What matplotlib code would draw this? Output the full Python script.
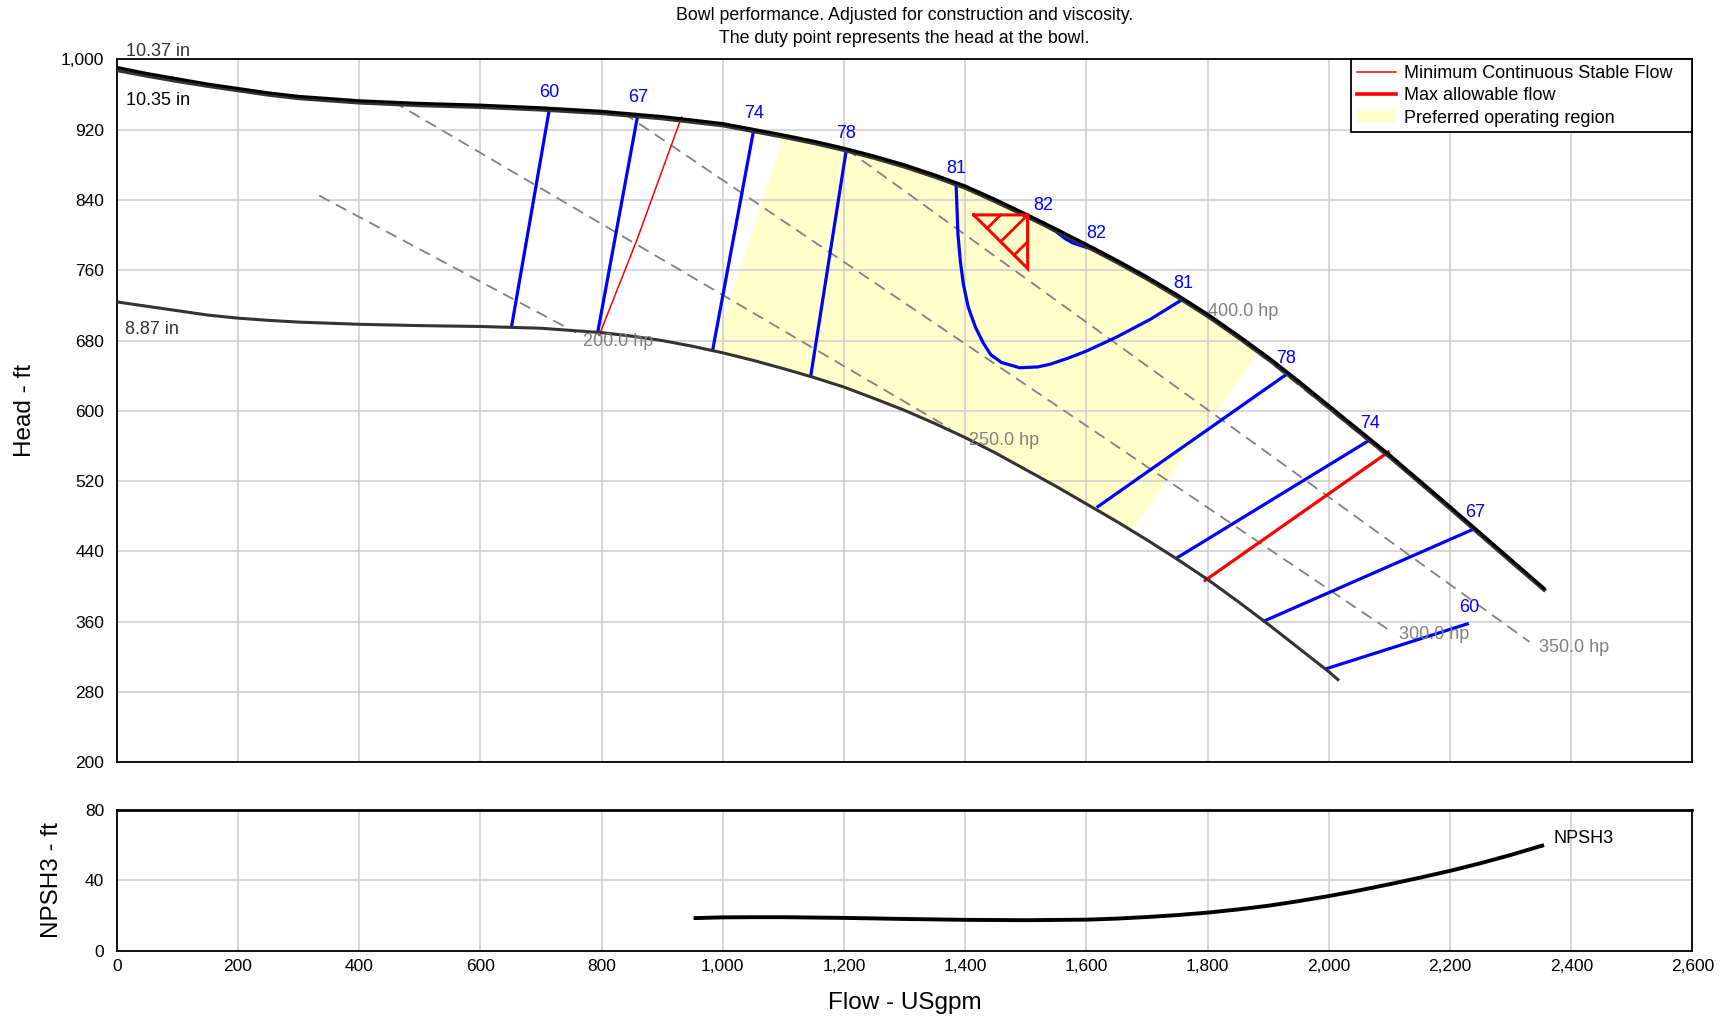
import numpy as np
import matplotlib
matplotlib.use("Agg")
import matplotlib.pyplot as plt
from matplotlib.ticker import FuncFormatter
from matplotlib.lines import Line2D
from matplotlib.patches import Patch

plt.rcParams['font.family'] = ['Liberation Sans', 'DejaVu Sans']

# impeller curves (flow USgpm, head ft)
q_max = [0, 50, 100, 150, 200, 250, 300, 400, 500, 600, 700, 800, 900, 1000, 1050,
         1100, 1150, 1200, 1250, 1300, 1350, 1400, 1450, 1500, 1550, 1600, 1650,
         1700, 1750, 1800, 1850, 1900, 1950, 2000, 2050, 2100, 2150, 2200, 2250,
         2300, 2355]
h_1037 = [991, 984, 978, 972, 967, 962, 958, 953, 950, 948, 945, 941, 935, 927, 920.5,
          914, 907, 899, 890, 880, 868.5, 856, 840.5, 824, 807, 789.5, 771.5,
          752.5, 732, 710, 686, 661, 634, 606, 578, 550, 520.5, 491, 461,
          431, 398]
h_1035 = [988, 981.5, 975.5, 970, 965, 960, 956, 951, 948, 946, 943, 939, 933, 925, 918.5,
          912, 905, 897, 888, 878, 866.5, 854, 838.5, 822, 805, 787.5, 769.5,
          750.5, 730, 708, 684, 659, 632, 604, 576, 548, 518.5, 489, 459,
          429, 396.5]
q_min = [0, 50, 100, 150, 200, 250, 300, 400, 500, 600, 700, 800, 850, 900, 950,
         1000, 1050, 1100, 1150, 1200, 1250, 1300, 1350, 1400, 1450, 1500, 1550,
         1600, 1650, 1700, 1750, 1800, 1850, 1900, 1950, 2000, 2015]
h_887 = [724, 719, 714, 709, 705.5, 703, 701, 698.5, 697, 696, 694, 689, 685, 680, 673.5,
         666, 657.5, 648, 638, 627, 614, 600.5, 585.5, 569.5, 552, 533, 514,
         494, 474, 453, 431, 408, 383, 357, 330, 303, 294]

# efficiency iso-lines: (label, flows, heads)
eff_lines = [
    ("60", [714, 651], [944, 694]),
    ("67", [860, 793], [938, 687]),
    ("74", [1051, 983], [920, 668]),
    ("78", [1204, 1145], [898, 639]),
    ("81", [1385, 1388, 1392, 1397, 1405, 1417, 1430, 1442, 1460, 1490, 1520, 1540,
            1570, 1600, 1650, 1705, 1759],
           [858, 801, 770, 744, 718, 695, 677, 664, 655, 649, 650, 653,
            660, 668, 684, 704, 727]),
    ("82", [1528, 1540, 1550, 1565, 1578, 1600, 1616],
           [815, 808, 804, 796, 791, 786, 784]),
    ("78", [1929, 1617], [641, 490]),
    ("74", [2068, 1748], [567, 432]),
    ("67", [2241, 1891], [466, 360]),
    ("60", [2231, 1994], [358, 306]),
]
# where the labels sit: line tops (the 81/82 loops get one at each end)
eff_label_pts = [(714, 944), (860, 938), (1051, 920), (1204, 898), (1385, 858),
                 (1528, 815), (1616, 784), (1759, 727), (1929, 641), (2068, 567),
                 (2241, 466), (2231, 358)]
eff_label_txt = ["60", "67", "74", "78", "81", "82", "82", "81", "78", "74", "67", "60"]

# power lines
hp_lines = [
    ("200.0 hp", [334, 758], [845, 689]),
    ("250.0 hp", [456, 1375], [952, 580]),
    ("300.0 hp", [836, 2098], [939, 351]),
    ("350.0 hp", [1204, 2331], [898, 337]),
    ("400.0 hp", [1785, 1900, 2000, 2100], [716, 657, 602, 546]),
]
hp_label_xy = [(770, 679), (1407, 566), (2115, 345), (2347, 331), (1800, 713)]

min_flow_q = [932, 858, 796]
min_flow_h = [934.5, 794, 686]
max_flow_q = [2098, 1796]
max_flow_h = [553, 407]

# preferred operating region corners
por_left = (985, 1100)     # bottom flow, top flow
por_right = (1674, 1885)

# duty point triangle
duty_q, duty_h = 1503, 823
tri_w, tri_h = 89, 61

# NPSH3
npsh_q = [955, 1000, 1050, 1100, 1200, 1300, 1400, 1500, 1600, 1650, 1700, 1750,
          1800, 1850, 1900, 1950, 2000, 2050, 2100, 2150, 2200, 2250, 2300, 2352]
npsh_h = [18.4, 18.8, 18.9, 18.9, 18.5, 17.9, 17.4, 17.2, 17.5, 18.1, 19.0, 20.1,
          21.5, 23.3, 25.4, 28.0, 30.9, 34.1, 37.6, 41.3, 45.2, 49.5, 54.2, 59.5]

fig = plt.figure(figsize=(17.27, 10.18), dpi=100)
ax = fig.add_axes([0.0676, 0.2513, 0.9124, 0.6903])
ax2 = fig.add_axes([0.0676, 0.0663, 0.9124, 0.1385])

grid_kw = dict(color='#cccccc', lw=1.1)
comma = FuncFormatter(lambda v, p: f'{v:,.0f}')
fs = 13

# preferred region polygon
qa = np.asarray(q_max, float); ha = np.asarray(h_1035, float)
qb = np.asarray(q_min, float); hb = np.asarray(h_887, float)
top_sel = (qa > por_left[1]) & (qa < por_right[1])
bot_sel = (qb > por_left[0]) & (qb < por_right[0])
px = ([por_left[1]] + list(qa[top_sel]) + [por_right[1], por_right[0]]
      + list(qb[bot_sel][::-1]) + [por_left[0]])
py = ([np.interp(por_left[1], qa, ha)] + list(ha[top_sel])
      + [np.interp(por_right[1], qa, ha), np.interp(por_right[0], qb, hb)]
      + list(hb[bot_sel][::-1]) + [np.interp(por_left[0], qb, hb)])
ax.fill(px, py, color='#ffffcc', lw=0, zorder=1)

for (lab, q, h), (tx, ty) in zip(hp_lines, hp_label_xy):
    ax.plot(q, h, color='#808080', lw=1.3, ls=(0, (6.5, 4)), zorder=2)
    ax.text(tx, ty, lab, color='#808080', fontsize=fs, va='center', ha='left', zorder=6)

for lab, q, h in eff_lines:
    ax.plot(q, h, color='#0000ff', lw=2.3, zorder=3, solid_capstyle='butt')
for (tx, ty), lab in zip(eff_label_pts, eff_label_txt):
    ax.annotate(lab, (tx, ty), xytext=(0, 11.5), textcoords='offset points',
                color='#0000ff', fontsize=fs, ha='center', va='center', zorder=6)

ax.plot(min_flow_q, min_flow_h, color='#ff0000', lw=1.1, zorder=3)
ax.plot(max_flow_q, max_flow_h, color='#ff0000', lw=2.3, zorder=3)

ax.plot(q_max, h_1035, color='#333333', lw=3.0, zorder=4)
ax.plot(q_max, h_1037, color='#000000', lw=2.2, zorder=4)
ax.plot(q_min, h_887, color='#333333', lw=2.2, zorder=4)

ax.text(16, 1009.5, "10.37 in", color='#333333', fontsize=fs, va='center', clip_on=False)
ax.text(16, 953.6, "10.35 in", color='#000000', fontsize=fs, va='center')
ax.text(14, 692.8, "8.87 in", color='#333333', fontsize=fs, va='center')

# duty point marker
tl = (duty_q - tri_w, duty_h)
bt = (duty_q, duty_h - tri_h)
ax.plot([tl[0], duty_q, bt[0], tl[0]], [tl[1], duty_h, bt[1], tl[1]],
        color='#ff0000', lw=2.2, zorder=5, solid_joinstyle='miter')
for t in (0.25, 0.5, 0.75):
    sx = tl[0] + t * tri_w
    sy = duty_h - t * tri_h
    if 2 * t <= 1:
        ex, ey = tl[0] + 2 * t * tri_w, duty_h
    else:
        ex, ey = duty_q, duty_h - (2 * t - 1) * tri_h
    ax.plot([sx, ex], [sy, ey], color='#ff0000', lw=2.0, zorder=5)

ax.set_xlim(0, 2600)
ax.set_ylim(200, 1000)
ax.set_xticks(np.arange(0, 2601, 200))
ax.set_yticks(np.arange(200, 1001, 80))
ax.yaxis.set_major_formatter(comma)
ax.tick_params(length=0, labelsize=12.5, pad=9, labelbottom=False)
ax.grid(True, **grid_kw)
ax.set_ylabel("Head - ft", fontsize=17.5, labelpad=18)
for s in ax.spines.values():
    s.set_linewidth(1.3)

handles = [Line2D([], [], color='#ff0000', lw=1.1),
           Line2D([], [], color='#ff0000', lw=2.6),
           Patch(facecolor='#ffffcc', edgecolor='none')]
# trailing spaces keep the wider right margin of the original box
leg = ax.legend(handles, ["Minimum Continuous Stable Flow   ", "Max allowable flow",
                          "Preferred operating region"],
                loc='upper right', fontsize=fs, frameon=True, fancybox=False,
                framealpha=1, edgecolor='black', borderaxespad=0, borderpad=0.3,
                labelspacing=0.3, handlelength=2.2, handletextpad=0.4)
leg.get_frame().set_linewidth(1.3)

ax2.plot(npsh_q, npsh_h, color='black', lw=2.8)
ax2.text(2371, 63.7, "NPSH3", fontsize=fs, va='center', ha='left')
ax2.set_xlim(0, 2600)
ax2.set_ylim(0, 80)
ax2.set_xticks(np.arange(0, 2601, 200))
ax2.set_yticks([0, 40, 80])
ax2.xaxis.set_major_formatter(comma)
ax2.tick_params(length=0, labelsize=12.5, pad=9)
ax2.tick_params(axis='x', pad=6)
ax2.grid(True, **grid_kw)
ax2.set_ylabel("NPSH3 - ft", fontsize=17.5, labelpad=16)
ax2.set_xlabel("Flow - USgpm", fontsize=17.5, labelpad=13)
for s in ax2.spines.values():
    s.set_linewidth(1.3)
ax2.spines['top'].set_linewidth(2)

cx = 0.0676 + 0.9124 / 2
fig.text(cx, 1 - 15.4 / 1018, "Bowl performance. Adjusted for construction and viscosity.",
         ha='center', va='center', fontsize=12.8)
fig.text(cx, 1 - 38.5 / 1018, "The duty point represents the head at the bowl.",
         ha='center', va='center', fontsize=12.8)

fig.savefig("out.png", dpi=100)
